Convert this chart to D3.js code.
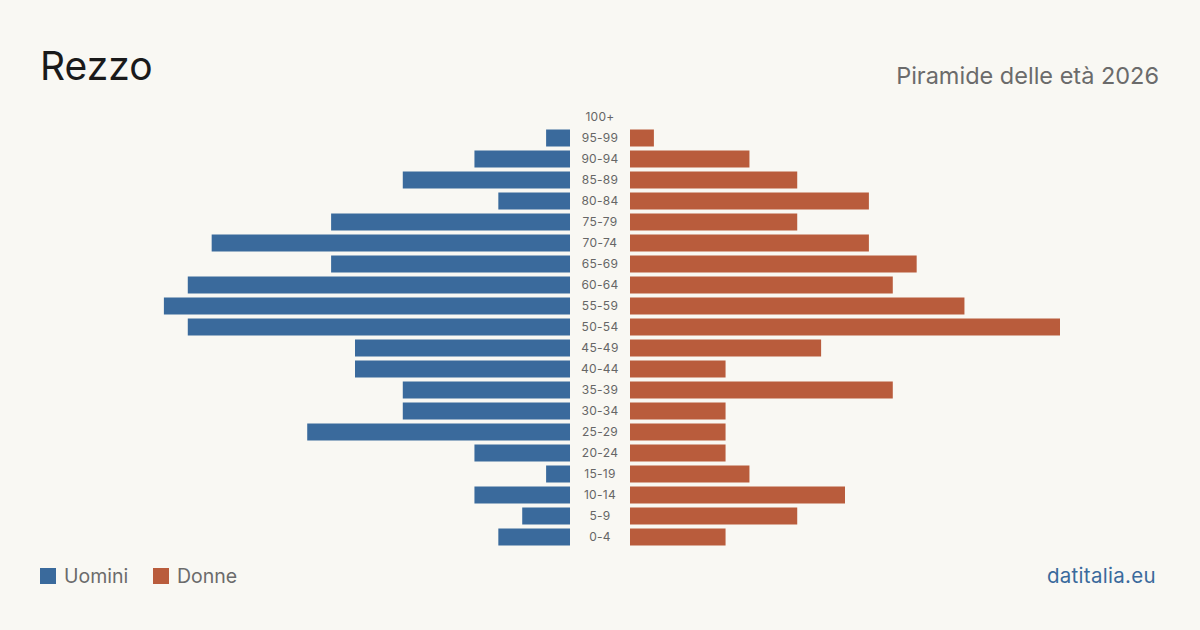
<!DOCTYPE html>
<html>
<head>
<meta charset="utf-8">
<script src="https://cdn.jsdelivr.net/npm/d3@7"></script>
<style>
  body { margin: 0; background: #f9f8f3; }
  svg { display: block; font-family: Inter, "Noto Sans", sans-serif; }
</style>
</head>
<body>
<svg width="1200" height="630"></svg>
<script>
const ageGroups = ["100+", "95-99", "90-94", "85-89", "80-84", "75-79", "70-74", "65-69", "60-64", "55-59",
  "50-54", "45-49", "40-44", "35-39", "30-34", "25-29", "20-24", "15-19", "10-14", "5-9", "0-4"];
const men = [0, 1, 4, 7, 3, 10, 15, 10, 16, 17, 16, 9, 9, 7, 7, 11, 4, 1, 4, 2, 3];
const women = [0, 1, 5, 7, 10, 7, 10, 12, 11, 14, 18, 8, 4, 11, 4, 4, 4, 5, 9, 7, 4];

const svg = d3.select("svg");
const blue = "#3a6a9c";
const red = "#b95c3c";

const maxVal = d3.max(men.concat(women));
const xLen = d3.scaleLinear().domain([0, maxVal]).range([0, 430]);

const y = d3.scaleBand()
  .domain(ageGroups)
  .range([106.5, 547.5])
  .paddingInner(4 / 21)
  .paddingOuter(2 / 21);

const leftEdge = 570;
const rightEdge = 630;

svg.append("g")
  .selectAll("rect")
  .data(ageGroups)
  .join("rect")
  .attr("x", (d, i) => leftEdge - xLen(men[i]))
  .attr("y", d => y(d))
  .attr("width", (d, i) => xLen(men[i]))
  .attr("height", y.bandwidth())
  .attr("fill", blue);

svg.append("g")
  .selectAll("rect")
  .data(ageGroups)
  .join("rect")
  .attr("x", rightEdge)
  .attr("y", d => y(d))
  .attr("width", (d, i) => xLen(women[i]))
  .attr("height", y.bandwidth())
  .attr("fill", red);

svg.append("g")
  .selectAll("text")
  .data(ageGroups)
  .join("text")
  .attr("x", 600)
  .attr("y", d => y(d) + y.bandwidth() / 2)
  .attr("dy", "0.35em")
  .attr("text-anchor", "middle")
  .attr("font-size", 12)
  .attr("letter-spacing", 0.3)
  .attr("fill", "#666")
  .text(d => d);

// titles
svg.append("text")
  .attr("x", 40).attr("y", 80)
  .attr("font-size", 39)
  .attr("fill", "#1a1a1a")
  .text("Rezzo");

svg.append("text")
  .attr("x", 1159).attr("y", 84)
  .attr("text-anchor", "end")
  .attr("font-size", 23.5)
  .attr("fill", "#6b6b6b")
  .text("Piramide delle età 2026");

// legend
const legend = [{ label: "Uomini", color: blue, x: 40 }, { label: "Donne", color: red, x: 153 }];
const lg = svg.append("g").selectAll("g").data(legend).join("g")
  .attr("transform", d => `translate(${d.x},568)`);
lg.append("rect").attr("width", 16).attr("height", 16).attr("fill", d => d.color);
lg.append("text")
  .attr("x", 24).attr("y", 15)
  .attr("font-size", 19.5)
  .attr("fill", "#6b6b6b")
  .text(d => d.label);

svg.append("text")
  .attr("x", 1156).attr("y", 583)
  .attr("text-anchor", "end")
  .attr("font-size", 20.5)
  .attr("letter-spacing", 0.3)
  .attr("fill", blue)
  .text("datitalia.eu");
</script>
</body>
</html>
